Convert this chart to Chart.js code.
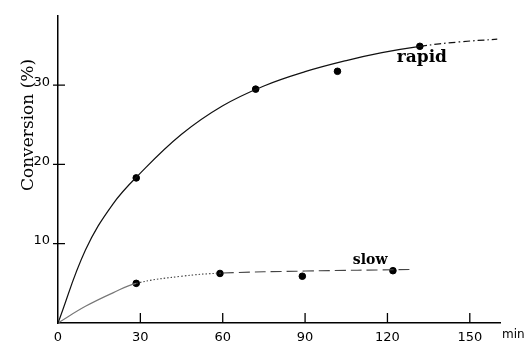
<!DOCTYPE html>
<html>
<head>
<meta charset="utf-8">
<script src="https://cdn.jsdelivr.net/npm/chart.js@4.4.1/dist/chart.umd.min.js"></script>
<style>
  body { margin: 0; background: #fff; }
  #wrap { width: 525px; height: 342px; position: relative; }
</style>
</head>
<body>
<div id="wrap"><canvas id="convChart"></canvas></div>
<script>
// tick labels
var xTicks = [0, 30, 60, 90, 120, 150];
var yTicks = [10, 20, 30];

// measured points (min, %)
var rapidMin = [28.5, 72, 101.8, 131.8];
var rapidPct = [18.3, 29.5, 31.75, 34.9];
var slowMin = [28.5, 59, 89, 122];
var slowPct = [5.0, 6.25, 5.9, 6.6];

// drawn curves
var rapidCurveMin = [0, 10, 20, 30, 45, 60, 75, 90, 105, 118, 131.8, 146, 160];
var rapidCurvePct = [0, 9.2, 15.0, 18.9, 23.8, 27.4, 29.9, 31.7, 33.1, 34.1, 34.9, 35.45, 35.8];
var slowCurveMin = [0, 10, 20, 28.5, 45, 60, 90, 128];
var slowCurvePct = [0, 2.1, 3.8, 5.0, 5.9, 6.3, 6.55, 6.75];

function pairs(xs, ys) {
  return xs.map(function (v, i) { return { x: v, y: ys[i] }; });
}

var extras = {
  id: 'extras',
  afterDraw: function (chart) {
    var ctx = chart.ctx, sx = chart.scales.x, sy = chart.scales.y;
    ctx.save();
    // inward tick marks
    ctx.strokeStyle = '#000';
    ctx.lineWidth = 1.3;
    ctx.beginPath();
    xTicks.forEach(function (v) {
      if (v === 0) return;
      var px = sx.getPixelForValue(v);
      ctx.moveTo(px, sy.bottom);
      ctx.lineTo(px, sy.bottom - 10);
    });
    yTicks.forEach(function (v) {
      var py = sy.getPixelForValue(v);
      ctx.moveTo(sx.left - 5, py);
      ctx.lineTo(sx.left + 7, py);
    });
    ctx.stroke();

    ctx.fillStyle = '#000';
    ctx.font = 'bold 17px "DejaVu Serif"';
    ctx.textBaseline = 'alphabetic';
    ctx.fillText('rapid', sx.getPixelForValue(123.4), sy.getPixelForValue(32.9));
    ctx.font = 'bold 14px "DejaVu Serif"';
    ctx.fillText('slow', sx.getPixelForValue(107.4), sy.getPixelForValue(7.4));

    ctx.font = '12px "DejaVu Sans"';
    ctx.fillText('min', sx.right + 2, sy.bottom + 15);

    // axis title
    ctx.translate(33, 125);
    ctx.rotate(-Math.PI / 2);
    ctx.textAlign = 'center';
    ctx.font = '17px "DejaVu Serif"';
    ctx.fillText('Conversion (%)', 0, 0);
    ctx.restore();
  }
};

(function () {
  var ctx = document.getElementById('convChart').getContext('2d');
  new Chart(ctx, {
    type: 'scatter',
    data: {
      datasets: [{
        type: 'line',
        data: pairs(rapidCurveMin, rapidCurvePct),
        borderColor: '#111',
        borderWidth: 1.2,
        pointRadius: 0,
        tension: 0.4,
        segment: {
          borderDash: function (c) { return c.p0.parsed.x >= 131 ? [7, 3, 1.5, 3] : undefined; }
        }
      }, {
        type: 'line',
        data: pairs(slowCurveMin, slowCurvePct),
        borderColor: '#444',
        borderWidth: 1.1,
        pointRadius: 0,
        tension: 0.4,
        segment: {
          borderDash: function (c) {
            var x0 = c.p0.parsed.x;
            if (x0 >= 60) return [11, 5];
            if (x0 >= 28) return [1.5, 2];
            return undefined;
          },
          borderColor: function (c) { return c.p0.parsed.x < 28 ? '#777' : undefined; }
        }
      }, {
        data: pairs(rapidMin, rapidPct),
        backgroundColor: '#000',
        borderColor: '#000',
        pointRadius: 3.3
      }, {
        data: pairs(slowMin, slowPct),
        backgroundColor: '#000',
        borderColor: '#000',
        pointRadius: 3.3
      }]
    },
    options: {
      responsive: true,
      maintainAspectRatio: false,
      animation: false,
      layout: { padding: { left: 0, top: 13, right: 25, bottom: 0 } },
      plugins: { legend: { display: false }, tooltip: { enabled: false } },
      scales: {
        x: {
          type: 'linear',
          min: 0,
          max: 161,
          afterBuildTicks: function (s) { s.ticks = xTicks.map(function (v) { return { value: v }; }); },
          afterFit: function (s) { s.height = 19; },
          grid: { display: false, drawTicks: false },
          border: { display: true, color: '#000', width: 1.5 },
          ticks: { color: '#000', padding: 7, maxRotation: 0, font: { family: 'DejaVu Sans', size: 13 } }
        },
        y: {
          min: 0,
          max: 38.75,
          afterBuildTicks: function (s) { s.ticks = yTicks.map(function (v) { return { value: v }; }); },
          afterFit: function (s) { s.width = 58; },
          grid: { display: false, drawTicks: false },
          border: { display: true, color: '#000', width: 1.5 },
          ticks: { color: '#000', padding: 8, labelOffset: -3, font: { family: 'DejaVu Sans', size: 13 } }
        }
      }
    },
    plugins: [extras]
  });
})();
</script>
</body>
</html>
